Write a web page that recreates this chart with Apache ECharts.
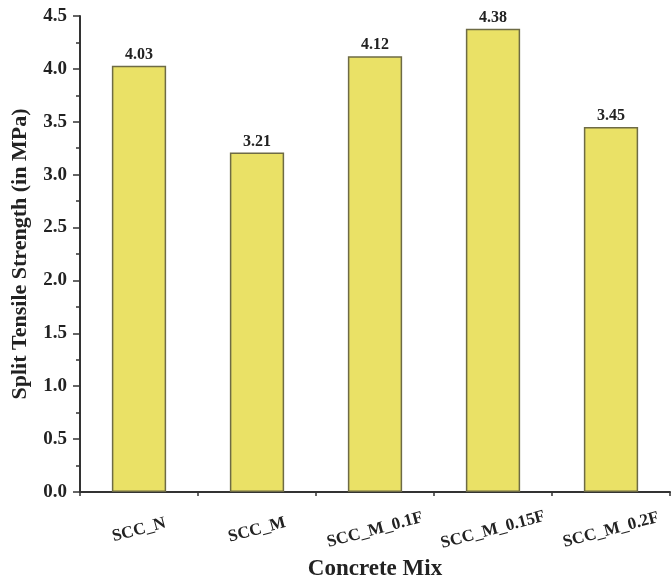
<!DOCTYPE html>
<html><head><meta charset="utf-8">
<script src="https://cdn.jsdelivr.net/npm/echarts@6/dist/echarts.min.js"></script>
<style>html,body{margin:0;padding:0;background:#fff}#c{width:671px;height:579px}</style>
</head><body><div id="c"></div>
<script>
const categories = ['SCC_N', 'SCC_M', 'SCC_M_0.1F', 'SCC_M_0.15F', 'SCC_M_0.2F'];
const strength = [4.03, 3.21, 4.12, 4.38, 3.45];
const yTicks = [0, 0.5, 1.0, 1.5, 2.0, 2.5, 3.0, 3.5, 4.0, 4.5];

const font = '"Liberation Serif", "DejaVu Serif", serif';
const chart = echarts.init(document.getElementById('c'));
chart.setOption({
  animation: false,
  grid: {left: 80, right: 1, top: 16, bottom: 87, containLabel: false, outerBoundsMode: 'none'},
  xAxis: [{
    type: 'category', data: categories, position: 'bottom',
    name: 'Concrete Mix', nameLocation: 'middle', nameGap: 64,
    nameTextStyle: {fontFamily: font, fontWeight: 'bold', fontSize: 23, color: '#222'},
    axisLine: {lineStyle: {color: '#333', width: 2}},
    axisTick: {alignWithLabel: true, length: 7, lineStyle: {color: '#333', width: 1.5}},
    axisLabel: {rotate: 15, align: 'center', verticalAlign: 'middle', fontFamily: font, fontWeight: 'bold',
      fontSize: 17, color: '#222', margin: 38}
  }, {
    type: 'category', data: categories, position: 'bottom',
    axisLine: {show: false},
    axisTick: {show: true, length: 4, lineStyle: {color: '#333', width: 1.5}},
    axisLabel: {show: false}
  }],
  yAxis: {
    type: 'value', min: 0, max: 4.5, interval: 0.5,
    name: 'Split Tensile Strength (in MPa)', nameLocation: 'middle', nameGap: 49,
    nameTextStyle: {fontFamily: font, fontWeight: 'bold', fontSize: 22, color: '#222'},
    axisLine: {show: true, lineStyle: {color: '#333', width: 2}},
    axisTick: {show: true, length: 7, lineStyle: {color: '#333', width: 1.5}},
    minorTick: {show: true, splitNumber: 2, length: 4, lineStyle: {color: '#333', width: 1.5}},
    splitLine: {show: false},
    axisLabel: {fontFamily: font, fontWeight: 'bold', fontSize: 19, color: '#222', margin: 13,
      formatter: v => yTicks.includes(v) ? v.toFixed(1) : ''}
  },
  series: [{
    type: 'bar', data: strength, barWidth: '46%', xAxisIndex: 0,
    itemStyle: {color: '#EAE166', borderColor: '#6e6b45', borderWidth: 1.5},
    label: {show: true, position: 'top', distance: 3, fontFamily: font, fontWeight: 'bold', fontSize: 16, color: '#222',
      formatter: p => p.value.toFixed(2)}
  }]
});
</script></body></html>
